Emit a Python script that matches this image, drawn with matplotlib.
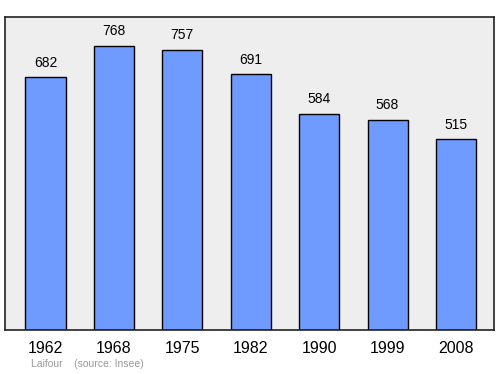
import matplotlib
matplotlib.use("Agg")
import matplotlib.pyplot as plt

plt.rcParams["font.family"] = ["Liberation Sans", "DejaVu Sans"]

years = ["1962", "1968", "1975", "1982", "1990", "1999", "2008"]
population = [682, 768, 757, 691, 584, 568, 515]

fig = plt.figure(figsize=(5.0, 3.74), dpi=100)
ax = fig.add_axes([5/500, 1 - 330/374, (494-5)/500, (330-17)/374])
ax.set_facecolor("#eeeeee")
x = list(range(len(years)))
ax.bar(x, population, width=0.585, color="#6f9bff", edgecolor="black", linewidth=1.0, zorder=2)
for xi, v in zip(x, population):
    ax.annotate(str(v), (xi, v), xytext=(0, 5.3), textcoords="offset points",
                ha="center", va="bottom", fontsize=10, color="black")
ax.set_xlim(-0.592, 6.556)
ax.set_ylim(0, 845)
ax.set_yticks([])
ax.set_xticks(x)
ax.set_xticklabels(years, fontsize=11.5)
ax.tick_params(axis="x", length=0, pad=7.7)
for s in ax.spines.values():
    s.set_linewidth(1.2)
    s.set_color("#222222")
fig.text(31/500, 1 - 364/374, "Laifour    (source: Insee)", fontsize=7.5, color="#999999",
         ha="left", va="center")
fig.savefig("out.png", dpi=100)
